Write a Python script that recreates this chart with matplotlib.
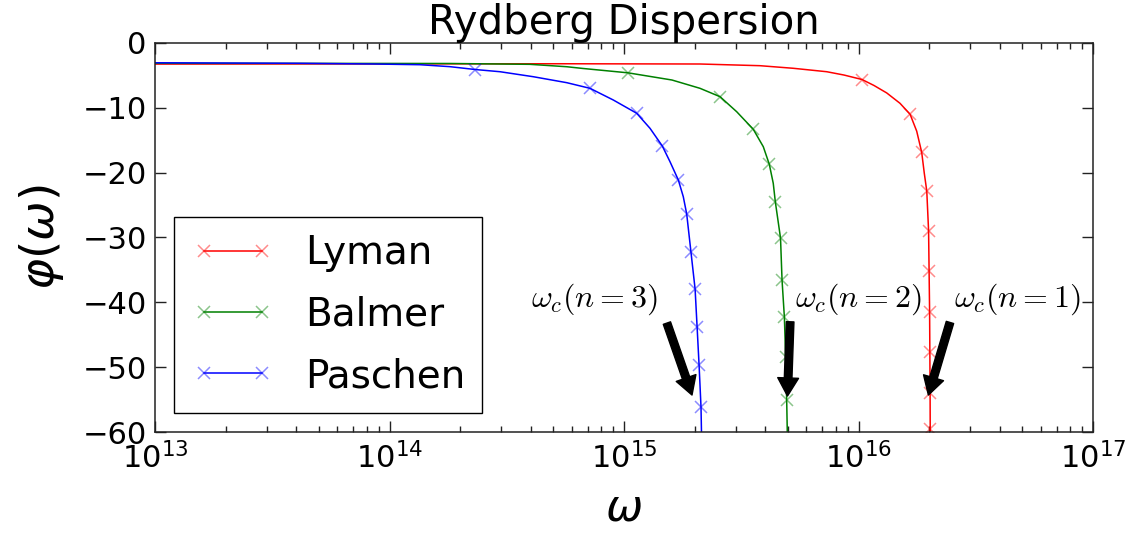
import matplotlib
matplotlib.use("Agg")
import matplotlib.pyplot as plt
from matplotlib.lines import Line2D

# ---------------- data ----------------
series_names = ["Lyman", "Balmer", "Paschen"]

# Lyman (n = 1) curve trace
lyman_w = [1.0e13, 5.33e14, 2.11e15, 3.80e15, 5.27e15, 7.32e15, 8.67e15, 1.035e16,
           1.164e16, 1.319e16, 1.503e16, 1.66e16, 1.771e16, 1.86e16, 1.908e16,
           1.955e16, 1.99e16, 2.00e16, 2.01e16, 2.015e16, 2.02e16, 2.022e16, 2.023e16]
lyman_phi = [-3.25, -3.2, -3.24, -3.50, -3.90, -4.43, -4.94, -5.63,
             -6.55, -7.70, -9.30, -11.0, -13.6, -16.86, -20.10,
             -22.83, -28.95, -35.12, -41.45, -47.62, -54.03, -59.59, -60.0]
lyman_mark_w = [1.035e16, 1.66e16, 1.86e16, 1.955e16, 1.99e16, 2.00e16,
                2.01e16, 2.015e16, 2.02e16, 2.022e16]
lyman_mark_phi = [-5.63, -11.0, -16.86, -22.83, -28.95, -35.12,
                  -41.45, -47.62, -54.03, -59.59]

# Balmer (n = 2) curve trace
balmer_w = [1.0e13, 1.81e14, 3.97e14, 5.70e14, 6.69e14, 1.04e15, 1.602e15, 2.109e15,
            2.567e15, 3.024e15, 3.559e15, 3.927e15, 4.165e15, 4.33e15, 4.418e15,
            4.65e15, 4.72e15, 4.83e15, 4.89e15, 4.94e15, 4.97e15]
balmer_phi = [-3.13, -3.16, -3.29, -3.66, -3.93, -4.6, -5.71, -6.99,
              -8.28, -10.60, -13.31, -16.00, -18.71, -21.64, -24.48,
              -30.08, -36.56, -42.31, -48.43, -55.07, -60.0]
balmer_mark_w = [1.04e15, 2.567e15, 3.559e15, 4.165e15, 4.418e15, 4.65e15,
                 4.72e15, 4.83e15, 4.89e15, 4.94e15]
balmer_mark_phi = [-4.6, -8.28, -13.31, -18.71, -24.48, -30.08,
                   -36.56, -42.31, -48.43, -55.07]

# Paschen (n = 3) curve trace
paschen_w = [1.0e13, 4.15e13, 8.6e13, 1.35e14, 1.81e14, 2.32e14, 2.96e14, 4.104e14,
             5.70e14, 7.16e14, 9.00e14, 1.133e15, 1.291e15, 1.457e15, 1.571e15,
             1.705e15, 1.790e15, 1.851e15, 1.93e15, 2.01e15, 2.05e15, 2.09e15,
             2.13e15, 2.14e15]
paschen_phi = [-3.05, -3.13, -3.24, -3.35, -3.65, -4.09, -4.43, -5.20,
               -6.12, -6.99, -8.79, -10.84, -13.16, -15.89, -18.31,
               -21.13, -23.71, -26.38, -32.24, -37.95, -43.81, -49.67,
               -56.15, -60.0]
paschen_mark_w = [2.32e14, 7.16e14, 1.133e15, 1.457e15, 1.705e15, 1.851e15,
                  1.93e15, 2.01e15, 2.05e15, 2.09e15, 2.13e15]
paschen_mark_phi = [-4.09, -6.99, -10.84, -15.89, -21.13, -26.38,
                    -32.24, -37.95, -43.81, -49.67, -56.15]

y_ticks = [0, -10, -20, -30, -40, -50, -60]
annot_labels = [r"$\omega_c(n=3)$", r"$\omega_c(n=2)$", r"$\omega_c(n=1)$"]

# ---------------- figure ----------------
W, H = 1135, 533
fig = plt.figure(figsize=(W / 100, H / 100), dpi=100)
ax = fig.add_axes([155 / W, 1 - 432 / H, (1093 - 155) / W, (432 - 43) / H])

colors = ["red", "green", "blue"]
mark_alpha = 0.45
traces = [(lyman_w, lyman_phi, lyman_mark_w, lyman_mark_phi),
          (balmer_w, balmer_phi, balmer_mark_w, balmer_mark_phi),
          (paschen_w, paschen_phi, paschen_mark_w, paschen_mark_phi)]

handles = []
for name, col, (w, p, mw, mp) in zip(series_names, colors, traces):
    ax.plot(w, p, color=col, lw=1.1, solid_joinstyle="round")
    ax.plot(mw, mp, ls="none", marker="x", ms=8, mew=1.1,
            color=col, alpha=mark_alpha)
    mec = matplotlib.colors.to_rgba(col, mark_alpha)
    handles.append(Line2D([], [], color=col, lw=1.1, marker="x", ms=8,
                          mew=1.1, mec=mec, label=name))

ax.set_xscale("log")
ax.set_xlim(1e13, 1e17)
ax.set_ylim(-60, 0)
ax.set_yticks(y_ticks)

ax.tick_params(which="both", direction="in", top=True, right=True, width=1,
               colors="#222222", labelcolor="black")
ax.tick_params(which="major", length=8)
ax.tick_params(which="minor", length=4)
ax.tick_params(axis="x", labelsize=22, pad=7)
ax.tick_params(axis="y", labelsize=22, pad=6)
for s in ax.spines.values():
    s.set_linewidth(1.1)
    s.set_color("#222222")

ax.set_title("Rydberg Dispersion", fontsize=29, pad=5)
ax.set_xlabel(r"$\omega$", fontsize=32, labelpad=9)
ax.set_ylabel(r"$\varphi(\omega)$", fontsize=34, labelpad=12)

leg = ax.legend(handles=handles, loc="lower left", numpoints=2, fontsize=28,
                fancybox=False, framealpha=1, edgecolor="black",
                handlelength=2.1, handletextpad=0.8, labelspacing=0.6,
                borderpad=0.45, borderaxespad=0.5)
leg.get_frame().set_linewidth(1.0)

# annotations: text and arrows
text_pos = [(7.48e14, -39.5), (1.0e16, -39.5), (4.76e16, -39.5)]
arrow_tail = [(1.524e15, -43.2), (5.11e15, -43.0), (2.455e16, -43.1)]
arrow_tip = [(1.95e15, -54.3), (4.98e15, -54.45), (1.986e16, -54.3)]
for lab, tp, tl, tip in zip(annot_labels, text_pos, arrow_tail, arrow_tip):
    ax.text(tp[0], tp[1], lab, fontsize=23, math_fontfamily="cm",
            ha="center", va="center")
    ax.annotate("", xy=tip, xytext=tl,
                arrowprops=dict(facecolor="black", edgecolor="black",
                                width=5.5, headwidth=15, headlength=13,
                                shrink=0))

fig.savefig("out.png", dpi=100)
